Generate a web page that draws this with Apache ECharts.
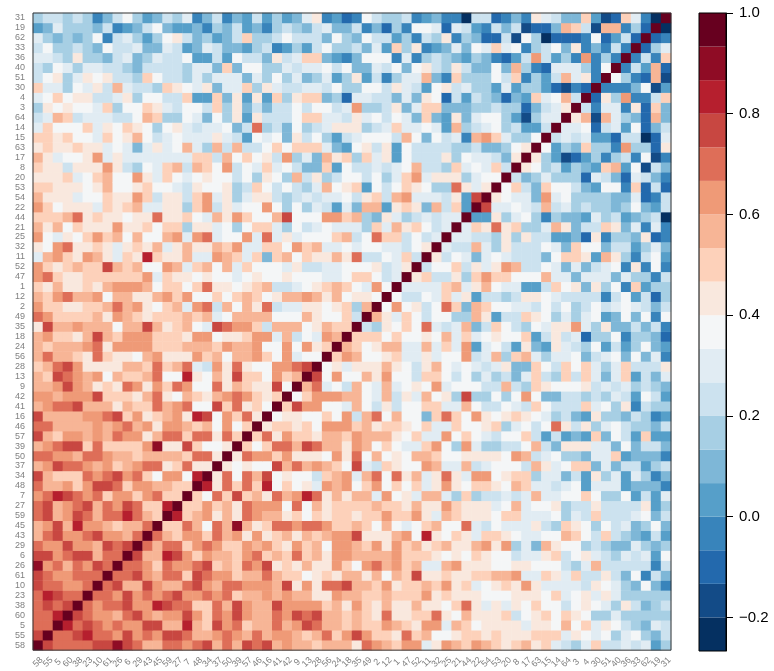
<!DOCTYPE html>
<html>
<head>
<meta charset="utf-8">
<style>html,body{margin:0;padding:0;background:#fff}#c{width:774px;height:671px}</style>
<script src="https://cdn.jsdelivr.net/npm/echarts@6/dist/echarts.min.js"></script>
</head>
<body>
<div id="c"></div>
<script>
// Variable labels, bottom row / left column first
const labels = [58,55,5,60,38,23,10,61,26,6,29,43,45,59,27,7,48,34,37,50,39,57,46,16,41,42,9,13,28,56,24,18,35,49,2,12,1,47,52,11,32,25,21,44,22,54,53,20,8,17,63,15,14,64,3,4,30,51,40,36,33,62,19,31].map(String);

// Colour-bar bands, lowest first
const bandColors = ['#053061','#134b87','#2369ad','#3884bb','#569fc9','#7eb7d7','#a7cfe4','#cce2ef','#e1ecf3','#f4f6f7','#f9e8de','#fdd1ba','#f7b596','#ef9a77','#de6e58','#c84741','#b61f2e','#8f0c25','#67001f'];
const barMin = -0.2667, barMax = 1;
const barTicks = [-0.2,0,0.2,0.4,0.6,0.8,1];

// Correlations (base 19, 0 = lowest band, i = 1.0 band).
// Entry r holds the cells of row r to the right of the diagonal (the matrix is symmetric).
const upperBands = [
"feeeeffhfecceedefcecfefcdccbcccaedcbdd8adcbdcbabcab8768b7787846",
"eefgeedfdedffeccdedcecddcbcebdfdbbaebc99abbabaaabbb8a989689657",
"gefededdffccgcbfdebccecdfeccbcbbdcbadd8cb9aaaa8aa9c9b8a976587",
"feddcefdcddfdbedfdccedfefccbcbaeaabbea9caaab79ab9ba966866666",
"edeefddgfeebbecfdccfddddbcadbacaacaa9bea8a8a9b9979a986a7567",
"eedfdedefddedebccdcdccaadccbbcbbbdabaaa999aaa9b89a8a866666",
"efccfdccefdceedddcfadaeefccbdabbcbdab89abada88887a9865953",
"eefdceebfeddbccecbb9abaccac9cbfaabaabbccd88ba8b77a759375",
"eedbeddefbcbedfabacaadb9decdbc88cdaaa99aa999768c7777737",
"fccgfdbdccbdebcbebcaddccccdbbba9a9ba99788ab79a87687849",
"eceebdedbbdcdbadbc9ddcbdadbcabcaacdad685ca99676558656",
"ecbddbecdadabcacbcddfaaacd9ga9ba8bba98899cb97b765474",
"bbec9echcabeedeedbbcb9c989bc99e879888a76ba969785695",
"gbcdacaedccab9babbabbdbbda8cbaaa9bb8889687b7778957",
"bbdbcaeddd9e9cabbbbcbbacaadbaaa89c899a677a7777a46",
"b9ebfbcaecdgeacacc8d9a8cc86b677878c8899b96694748",
"gaebebg9b9a8dcd9bd9b9b8ada9bba9cb88789488845553",
"ae9ecf9a997bcd8ce9eac8aea8dd9abb688574a6848635",
"a9a99fcecdcb9f87ba99dc88c789997ca89bb58577467",
"aeddbdaaa9dae9c9a9ccb99aaaa9dc78966588b45553",
"b9beecfeccadc9b988bd96d866779c75aaa88595775",
"beadbbaccbdccca9b88d9b98799b747454b5974b44",
"abbab9dddbcabba9b88b99ab68979ea7a68976657",
"9aa99b9d7ce9c995beb9da9aba986754a6657634",
"bfdd998c97a799bb88c977987b9777b896a3766",
"9bdddcc98c7a8c9a6f66969d95577676874974",
"ce897c98c89a9d899977c76ba999a78786765",
"f9d99cad997bb979686758b76b7b858b4758",
"9a8aaaca97ac989878a55b97b9b868b777a",
"bdc99ab88a899d78c6bc86889578959583",
"cb9acc88c8b8d48974a54a87694746954",
"bbb9b99a9c8b89a99b47a78266936652",
"76a9b9e878c57b97698aad86a557573",
"ca8b979966ca477ba9686894595939",
"9d9a79eb5cb998879796797898757",
"97798b8a47767aa9877773794726",
"8888bc8ac988447b9a5a693b466",
"ab77a6bdbb999c885888586637",
"799b7a8adc77985857893a393",
"a798589877759bba4ca63794",
"877c86a777985b995774685",
"88776a6a774452a3665a23",
"8baeab668ca577ba58383",
"44a68963655486745670",
"f88987c786766569547",
"a9885d896666558237",
"9b75b99754993b272",
"7568666287528753",
"a9674654bc49175",
"a6412463673913",
"9465b663d662a",
"787844277028",
"88927849257",
"ac1c8652c5",
"73883a2b5",
"2a6d337b",
"3335914",
"9632c1",
"374c2",
"373b",
"268",
"23",
"0"
];

const bandWidth = (barMax - barMin) / bandColors.length;
const bandValue = b => +(barMin + (b + 0.5) * bandWidth).toFixed(3);
const cells = [];
labels.forEach((_, r) => {
  cells.push([r, r, 1]);
  if (r < upperBands.length) {
    [...upperBands[r]].forEach((ch, i) => {
      const c = r + 1 + i, v = bandValue(parseInt(ch, 19));
      cells.push([c, r, v], [r, c, v]);
    });
  }
});
const bands = bandColors.map((col, i) => [barMin + i * bandWidth, barMin + (i + 1) * bandWidth, i]);

const font = '"Liberation Sans", Arial, sans-serif';
const chart = echarts.init(document.getElementById('c'), null, {renderer: 'canvas'});
chart.setOption({
  animation: false,
  backgroundColor: '#fff',
  grid: [
    {left: 33, top: 13, width: 638, height: 638, show: true, borderColor: '#333', borderWidth: 1, backgroundColor: 'transparent', z: 5},
    {left: 699, top: 13, width: 27, height: 638, show: true, borderColor: '#000', borderWidth: 1, backgroundColor: 'transparent', z: 5}
  ],
  xAxis: [
    {type: 'category', gridIndex: 0, data: labels, axisLine: {show: false}, axisTick: {show: false}, splitLine: {show: false},
     axisLabel: {interval: 0, rotate: 45, align: 'center', verticalAlign: 'middle', fontSize: 9, color: '#808080', fontFamily: font, margin: 12}},
    {type: 'value', gridIndex: 1, min: 0, max: 1, show: false}
  ],
  yAxis: [
    {type: 'category', gridIndex: 0, data: labels, axisLine: {show: false}, axisTick: {show: false}, splitLine: {show: false},
     axisLabel: {interval: 0, fontSize: 9, color: '#808080', fontFamily: font, margin: 8}},
    {type: 'value', gridIndex: 1, position: 'right', min: barMin, max: barMax,
     axisLine: {show: true, onZero: false, lineStyle: {color: '#000'}},
     axisTick: {show: true, length: 7, lineStyle: {color: '#000', width: 1}, customValues: barTicks},
     splitLine: {show: false},
     axisLabel: {customValues: barTicks, fontSize: 15, color: '#000', fontFamily: font, margin: 13, padding: [6, 0, 0, 0],
       formatter: v => v.toFixed(1).replace('-', '\u2212')}}
  ],
  visualMap: {
    show: false, type: 'piecewise', seriesIndex: 0, dimension: 2,
    pieces: bands.map(b => ({gte: b[0], lt: b[1] + (b[2] === bandColors.length - 1 ? 1 : 0), color: bandColors[b[2]]}))
  },
  series: [
    {type: 'heatmap', xAxisIndex: 0, yAxisIndex: 0, data: cells, progressive: 0, emphasis: {disabled: true}, itemStyle: {borderWidth: 0}},
    {type: 'custom', xAxisIndex: 1, yAxisIndex: 1, data: bands, silent: true, encode: {y: [0, 1]},
     renderItem: (params, api) => {
       const p0 = api.coord([0, api.value(1)]), p1 = api.coord([1, api.value(0)]);
       return {type: 'rect', shape: {x: p0[0], y: p0[1], width: p1[0] - p0[0], height: p1[1] - p0[1]},
               style: {fill: bandColors[api.value(2)]}};
     }}
  ]
});
</script>
</body>
</html>
